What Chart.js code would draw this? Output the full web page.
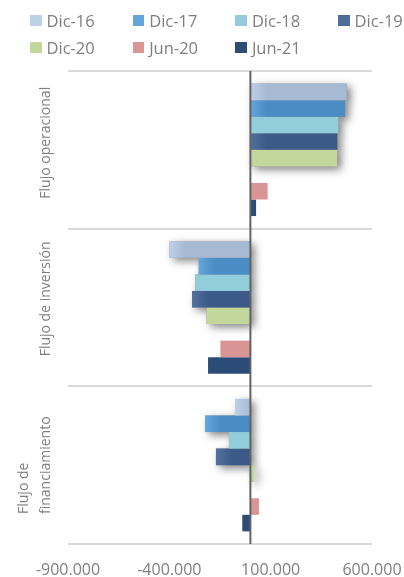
<!DOCTYPE html>
<html>
<head>
<meta charset="utf-8">
<script src="https://cdn.jsdelivr.net/npm/chart.js@4/dist/chart.umd.min.js"></script>
<style>
    html, body { margin: 0; background: #fff; overflow: hidden; }
    #wrap { position: relative; width: 404px; height: 577px; overflow: hidden; }
    #chart { position: absolute; left: 0; top: 0; }
    #legend {
        position: absolute; left: 30px; top: 7px; right: 0;
        display: grid; grid-template-columns: 102.7px 102.7px 102.7px auto;
        font-family: 'Open Sans', sans-serif; font-size: 16.5px; color: #7f7f7f;
    }
    #legend .item { display: flex; align-items: center; height: 27px; white-space: nowrap; overflow: hidden; }
    #legend .box { width: 11.5px; height: 11.5px; margin-right: 5px; flex: none; }
</style>
</head>
<body>
<div id="wrap">
    <canvas id="chart" width="404" height="577"></canvas>
    <div id="legend"></div>
</div>
<script>
// categories (one array per label = one text line)
var categories = [['Flujo operacional'], ['Flujo de inversión'], ['Flujo de', 'financiamiento']];

// series values
var dic16 = [475000, -400000, -76000];
var dic17 = [467000, -255000, -224000];
var dic18 = [434000, -272000, -106000];
var dic19 = [429000, -288000, -170000];
var dic20 = [428000, -216000, 18000];
var blank = [null, null, null];          // empty slot between Dic-20 and Jun-20
var jun20 = [85000, -148000, 42000];
var jun21 = [28000, -209000, -40000];

var seriesNames = ['Dic-16', 'Dic-17', 'Dic-18', 'Dic-19', 'Dic-20', '', 'Jun-20', 'Jun-21'];
var seriesData = [dic16, dic17, dic18, dic19, dic20, blank, jun20, jun21];
var legendColors = ['#bcd0e6', '#65a6d9', '#93cddd', '#4f6d99', '#c3d69b', '#ffffff', '#d99694', '#2c4d75'];
var barColors = ['#a7bad4', '#4a8cc3', '#92cddc', '#3c5a88', '#c3d69b', '#ffffff', '#d89593', '#2b4c76'];
var lightEdge = ['#bdd0e7', '#63a7dc', null, '#52719f', null, null, null, null];
var shadowSeries = [0, 1, 2, 3, 4];

// x axis
var xMin = -900000;
var xMax = 600000;
var xStep = 500000;

var textGray = '#7f7f7f';

function fmt(v) {
    var s = String(Math.abs(v)).replace(/\B(?=(\d{3})+(?!\d))/g, '.');
    return (v < 0 ? '-' : '') + s;
}

function barFill(i) {
    return function (c) {
        var light = lightEdge[i];
        if (!light || c.raw == null || !c.chart.scales.x) return barColors[i];
        var left = c.chart.scales.x.getPixelForValue(Math.min(0, c.raw));
        if (!isFinite(left)) return barColors[i];
        var g = c.chart.ctx.createLinearGradient(left, 0, left + 16, 0);
        g.addColorStop(0, light);
        g.addColorStop(1, barColors[i]);
        return g;
    };
}

var datasets = seriesNames.map(function (name, i) {
    return {
        label: name,
        data: seriesData[i],
        backgroundColor: barFill(i),
        borderWidth: 0,
        barPercentage: 1,
        categoryPercentage: 0.84
    };
});

// soft shadow under the Dic series, drawn before the bars so bars cover it
var shadowPlugin = {
    id: 'barShadow',
    beforeDatasetsDraw: function (chart) {
        var ctx = chart.ctx;
        ctx.save();
        ctx.shadowColor = 'rgba(0,0,0,0.5)';
        ctx.shadowBlur = 8;
        ctx.shadowOffsetX = 4;
        ctx.shadowOffsetY = 3;
        ctx.fillStyle = '#999';
        shadowSeries.forEach(function (i) {
            chart.getDatasetMeta(i).data.forEach(function (bar, j) {
                if (seriesData[i][j] == null) return;
                var p = bar.getProps(['x', 'y', 'base', 'height'], true);
                ctx.fillRect(Math.min(p.x, p.base), p.y - p.height / 2, Math.abs(p.x - p.base), p.height);
            });
        });
        ctx.restore();
    }
};

// vertical line at zero + rotated category labels
var axisPlugin = {
    id: 'zeroAndLabels',
    afterDatasetsDraw: function (chart) {
        var ctx = chart.ctx, area = chart.chartArea;
        var x0 = chart.scales.x.getPixelForValue(0);
        ctx.save();
        ctx.strokeStyle = '#636363';
        ctx.lineWidth = 2;
        ctx.beginPath();
        ctx.moveTo(x0, area.top);
        ctx.lineTo(x0, area.bottom);
        ctx.stroke();
        ctx.restore();
    },
    afterDraw: function (chart) {
        var ctx = chart.ctx, y = chart.scales.y;
        ctx.save();
        ctx.fillStyle = textGray;
        ctx.font = '14px "Open Sans"';
        ctx.textAlign = 'left';
        ctx.textBaseline = 'alphabetic';
        categories.forEach(function (lines, i) {
            var bottom = y.getPixelForValue(i + 0.5);
            lines.forEach(function (line, k) {
                var bx = 50 - (lines.length - 1 - k) * 22;
                ctx.save();
                ctx.translate(bx, bottom - 30);
                ctx.rotate(-Math.PI / 2);
                ctx.fillText(line, 0, 0);
                ctx.restore();
            });
        });
        ctx.restore();
    }
};

// legend in a fixed grid, like the original
var legend = document.getElementById('legend');
seriesNames.forEach(function (name, i) {
    if (!name) return;
    var item = document.createElement('div');
    item.className = 'item';
    var box = document.createElement('span');
    box.className = 'box';
    box.style.background = legendColors[i];
    var txt = document.createElement('span');
    txt.textContent = name;
    item.appendChild(box);
    item.appendChild(txt);
    legend.appendChild(item);
});

var chart = new Chart(document.getElementById('chart'), {
    type: 'bar',
    data: {
        labels: categories.map(function (l) { return l.join(' '); }),
        datasets: datasets
    },
    options: {
        indexAxis: 'y',
        responsive: false,
        animation: false,
        devicePixelRatio: 1,
        layout: { padding: { top: 71, right: 32, bottom: 0, left: 0 } },
        plugins: {
            legend: { display: false },
            tooltip: { enabled: false }
        },
        scales: {
            x: {
                min: xMin,
                max: xMax,
                grid: { display: false, drawTicks: false },
                border: { display: false },
                ticks: {
                    stepSize: xStep,
                    padding: 18,
                    color: textGray,
                    font: { family: 'Open Sans', size: 16, lineHeight: 1 },
                    maxRotation: 0,
                    callback: function (v) { return fmt(v); }
                },
                afterFit: function (scale) {
                    scale.height = 33;
                    scale.paddingLeft = 0;
                    scale.paddingRight = 32;
                }
            },
            y: {
                grid: { color: '#d9d9d9', lineWidth: 2, drawTicks: false },
                border: { display: false },
                ticks: { display: false },
                afterFit: function (scale) { scale.width = 68; }
            }
        }
    },
    plugins: [shadowPlugin, axisPlugin]
});
</script>
</body>
</html>
